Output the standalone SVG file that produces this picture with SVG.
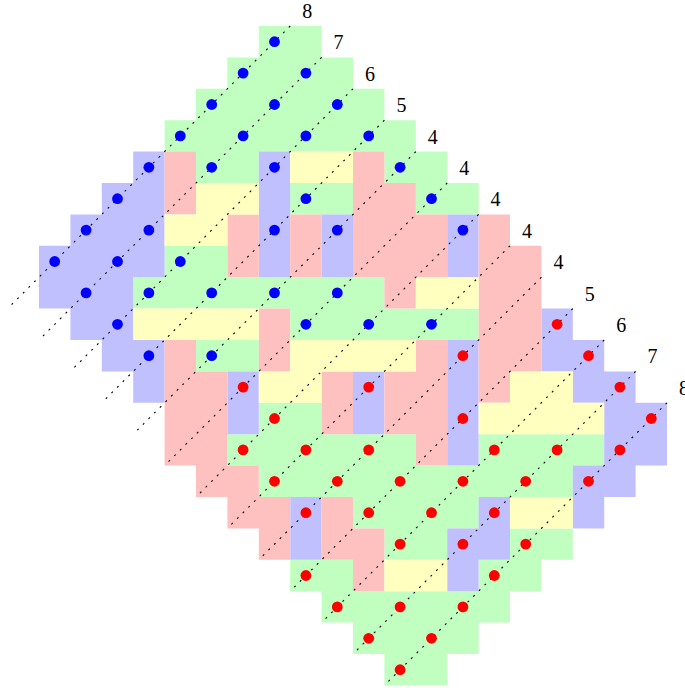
<svg xmlns="http://www.w3.org/2000/svg" width="685" height="688" viewBox="0 0 685 688">
<style>
.g{fill:#c0ffc0}.p{fill:#c0c0ff}.r{fill:#ffc0c0}.y{fill:#ffffc0}
.ln{stroke:#000;stroke-width:1.1;stroke-dasharray:2 6;fill:none}
.b{fill:#0000ff}.d{fill:#ff0000}
.lb{font-family:"Liberation Serif","Times New Roman",serif;font-size:20px;fill:#000;text-anchor:middle}
</style>
<rect width="685" height="688" fill="#fff"/>
<g id="tiles">
<path id="green" class="g" d="M258.8 26h62.8v31.4h-62.8z M227.4 57.4h125.6v31.4h-125.6z M196 88.8h188.4v31.4h-188.4z M164.6 120.2h251.2v31.4h-251.2z M196 151.6h62.8v31.4h-62.8z M384.4 151.6h62.8v31.4h-62.8z M290.2 183h62.8v31.4h-62.8z M415.8 183h62.8v31.4h-62.8z M164.6 245.8h62.8v31.4h-62.8z M133.2 277.2h251.2v31.4h-251.2z M290.2 308.6h188.4v31.4h-188.4z M196 340h62.8v31.4h-62.8z M258.8 402.8h62.8v31.4h-62.8z M227.4 434.2h188.4v31.4h-188.4z M478.6 434.2h125.6v31.4h-125.6z M258.8 465.6h314v31.4h-314z M353 497h125.6v31.4h-125.6z M384.4 528.4h62.8v31.4h-62.8z M510 528.4h62.8v31.4h-62.8z M290.2 559.8h62.8v31.4h-62.8z M478.6 559.8h62.8v31.4h-62.8z M321.6 591.2h188.4v31.4h-188.4z M353 622.6h125.6v31.4h-125.6z M384.4 654h62.8v31.4h-62.8z"/>
<path id="purple" class="p" d="M133.2 151.6h31.4v31.4h-31.4z M258.8 151.6h31.4v31.4h-31.4z M101.8 183h62.8v31.4h-62.8z M258.8 183h31.4v31.4h-31.4z M70.4 214.4h94.2v31.4h-94.2z M258.8 214.4h31.4v31.4h-31.4z M321.6 214.4h31.4v31.4h-31.4z M447.2 214.4h31.4v31.4h-31.4z M39 245.8h125.6v31.4h-125.6z M258.8 245.8h31.4v31.4h-31.4z M321.6 245.8h31.4v31.4h-31.4z M447.2 245.8h31.4v31.4h-31.4z M39 277.2h94.2v31.4h-94.2z M70.4 308.6h62.8v31.4h-62.8z M541.4 308.6h31.4v31.4h-31.4z M101.8 340h62.8v31.4h-62.8z M447.2 340h31.4v31.4h-31.4z M541.4 340h62.8v31.4h-62.8z M133.2 371.4h31.4v31.4h-31.4z M227.4 371.4h31.4v31.4h-31.4z M353 371.4h31.4v31.4h-31.4z M447.2 371.4h31.4v31.4h-31.4z M572.8 371.4h62.8v31.4h-62.8z M227.4 402.8h31.4v31.4h-31.4z M353 402.8h31.4v31.4h-31.4z M447.2 402.8h31.4v31.4h-31.4z M604.2 402.8h62.8v31.4h-62.8z M447.2 434.2h31.4v31.4h-31.4z M604.2 434.2h62.8v31.4h-62.8z M572.8 465.6h62.8v31.4h-62.8z M290.2 497h31.4v31.4h-31.4z M478.6 497h31.4v31.4h-31.4z M572.8 497h31.4v31.4h-31.4z M290.2 528.4h31.4v31.4h-31.4z M447.2 528.4h62.8v31.4h-62.8z M447.2 559.8h31.4v31.4h-31.4z"/>
<path id="pink" class="r" d="M164.6 151.6h31.4v31.4h-31.4z M353 151.6h31.4v31.4h-31.4z M164.6 183h31.4v31.4h-31.4z M353 183h62.8v31.4h-62.8z M227.4 214.4h31.4v31.4h-31.4z M290.2 214.4h31.4v31.4h-31.4z M353 214.4h94.2v31.4h-94.2z M478.6 214.4h31.4v31.4h-31.4z M227.4 245.8h31.4v31.4h-31.4z M290.2 245.8h31.4v31.4h-31.4z M353 245.8h94.2v31.4h-94.2z M478.6 245.8h62.8v31.4h-62.8z M384.4 277.2h31.4v31.4h-31.4z M478.6 277.2h62.8v31.4h-62.8z M258.8 308.6h31.4v31.4h-31.4z M478.6 308.6h62.8v31.4h-62.8z M164.6 340h31.4v31.4h-31.4z M258.8 340h31.4v31.4h-31.4z M415.8 340h31.4v31.4h-31.4z M478.6 340h62.8v31.4h-62.8z M164.6 371.4h62.8v31.4h-62.8z M321.6 371.4h31.4v31.4h-31.4z M384.4 371.4h62.8v31.4h-62.8z M478.6 371.4h31.4v31.4h-31.4z M164.6 402.8h62.8v31.4h-62.8z M321.6 402.8h31.4v31.4h-31.4z M384.4 402.8h62.8v31.4h-62.8z M164.6 434.2h62.8v31.4h-62.8z M415.8 434.2h31.4v31.4h-31.4z M196 465.6h62.8v31.4h-62.8z M227.4 497h62.8v31.4h-62.8z M321.6 497h31.4v31.4h-31.4z M258.8 528.4h31.4v31.4h-31.4z M321.6 528.4h62.8v31.4h-62.8z M353 559.8h31.4v31.4h-31.4z"/>
<path id="yellow" class="y" d="M290.2 151.6h62.8v31.4h-62.8z M196 183h62.8v31.4h-62.8z M164.6 214.4h62.8v31.4h-62.8z M415.8 277.2h62.8v31.4h-62.8z M133.2 308.6h125.6v31.4h-125.6z M290.2 340h125.6v31.4h-125.6z M258.8 371.4h62.8v31.4h-62.8z M510 371.4h62.8v31.4h-62.8z M478.6 402.8h125.6v31.4h-125.6z M510 497h62.8v31.4h-62.8z M384.4 559.8h62.8v31.4h-62.8z"/>
</g>
<g id="connectors">
<line class="ln" x1="290.2" y1="26" x2="7.6" y2="308.6"/>
<line class="ln" x1="321.6" y1="57.4" x2="39" y2="340"/>
<line class="ln" x1="353" y1="88.8" x2="70.4" y2="371.4"/>
<line class="ln" x1="384.4" y1="120.2" x2="101.8" y2="402.8"/>
<line class="ln" x1="415.8" y1="151.6" x2="133.2" y2="434.2"/>
<line class="ln" x1="447.2" y1="183" x2="164.6" y2="465.6"/>
<line class="ln" x1="478.6" y1="214.4" x2="196" y2="497"/>
<line class="ln" x1="510" y1="245.8" x2="227.4" y2="528.4"/>
<line class="ln" x1="541.4" y1="277.2" x2="258.8" y2="559.8"/>
<line class="ln" x1="572.8" y1="308.6" x2="290.2" y2="591.2"/>
<line class="ln" x1="604.2" y1="340" x2="321.6" y2="622.6"/>
<line class="ln" x1="635.6" y1="371.4" x2="353" y2="654"/>
<line class="ln" x1="667" y1="402.8" x2="384.4" y2="685.4"/>
</g>
<g id="blue-dots" class="b">
<circle cx="274.5" cy="41.7" r="5.4"/>
<circle cx="243.1" cy="73.1" r="5.4"/><circle cx="305.9" cy="73.1" r="5.4"/>
<circle cx="211.7" cy="104.5" r="5.4"/><circle cx="274.5" cy="104.5" r="5.4"/><circle cx="337.3" cy="104.5" r="5.4"/>
<circle cx="180.3" cy="135.9" r="5.4"/><circle cx="243.1" cy="135.9" r="5.4"/><circle cx="305.9" cy="135.9" r="5.4"/><circle cx="368.7" cy="135.9" r="5.4"/>
<circle cx="148.9" cy="167.3" r="5.4"/><circle cx="211.7" cy="167.3" r="5.4"/><circle cx="274.5" cy="167.3" r="5.4"/><circle cx="400.1" cy="167.3" r="5.4"/>
<circle cx="117.5" cy="198.7" r="5.4"/><circle cx="305.9" cy="198.7" r="5.4"/><circle cx="431.5" cy="198.7" r="5.4"/>
<circle cx="86.1" cy="230.1" r="5.4"/><circle cx="148.9" cy="230.1" r="5.4"/><circle cx="274.5" cy="230.1" r="5.4"/><circle cx="337.3" cy="230.1" r="5.4"/><circle cx="462.9" cy="230.1" r="5.4"/>
<circle cx="54.7" cy="261.5" r="5.4"/><circle cx="117.5" cy="261.5" r="5.4"/><circle cx="180.3" cy="261.5" r="5.4"/>
<circle cx="86.1" cy="292.9" r="5.4"/><circle cx="148.9" cy="292.9" r="5.4"/><circle cx="211.7" cy="292.9" r="5.4"/><circle cx="274.5" cy="292.9" r="5.4"/><circle cx="337.3" cy="292.9" r="5.4"/>
<circle cx="117.5" cy="324.3" r="5.4"/><circle cx="305.9" cy="324.3" r="5.4"/><circle cx="368.7" cy="324.3" r="5.4"/><circle cx="431.5" cy="324.3" r="5.4"/>
<circle cx="148.9" cy="355.7" r="5.4"/><circle cx="211.7" cy="355.7" r="5.4"/>
</g>
<g id="red-dots" class="d">
<circle cx="557.1" cy="324.3" r="5.4"/>
<circle cx="462.9" cy="355.7" r="5.4"/><circle cx="588.5" cy="355.7" r="5.4"/>
<circle cx="243.1" cy="387.1" r="5.4"/><circle cx="368.7" cy="387.1" r="5.4"/><circle cx="619.9" cy="387.1" r="5.4"/>
<circle cx="274.5" cy="418.5" r="5.4"/><circle cx="462.9" cy="418.5" r="5.4"/><circle cx="651.3" cy="418.5" r="5.4"/>
<circle cx="243.1" cy="449.9" r="5.4"/><circle cx="305.9" cy="449.9" r="5.4"/><circle cx="368.7" cy="449.9" r="5.4"/><circle cx="494.3" cy="449.9" r="5.4"/><circle cx="557.1" cy="449.9" r="5.4"/><circle cx="619.9" cy="449.9" r="5.4"/>
<circle cx="274.5" cy="481.3" r="5.4"/><circle cx="337.3" cy="481.3" r="5.4"/><circle cx="400.1" cy="481.3" r="5.4"/><circle cx="462.9" cy="481.3" r="5.4"/><circle cx="525.7" cy="481.3" r="5.4"/><circle cx="588.5" cy="481.3" r="5.4"/>
<circle cx="305.9" cy="512.7" r="5.4"/><circle cx="368.7" cy="512.7" r="5.4"/><circle cx="431.5" cy="512.7" r="5.4"/><circle cx="494.3" cy="512.7" r="5.4"/>
<circle cx="400.1" cy="544.1" r="5.4"/><circle cx="462.9" cy="544.1" r="5.4"/><circle cx="525.7" cy="544.1" r="5.4"/>
<circle cx="305.9" cy="575.5" r="5.4"/><circle cx="494.3" cy="575.5" r="5.4"/>
<circle cx="337.3" cy="606.9" r="5.4"/><circle cx="400.1" cy="606.9" r="5.4"/><circle cx="462.9" cy="606.9" r="5.4"/>
<circle cx="368.7" cy="638.3" r="5.4"/><circle cx="431.5" cy="638.3" r="5.4"/>
<circle cx="400.1" cy="669.7" r="5.4"/>
</g>
<g id="labels" class="lb">
<text x="307.2" y="18">8</text>
<text x="338.6" y="49.4">7</text>
<text x="370" y="80.8">6</text>
<text x="401.4" y="112.2">5</text>
<text x="432.8" y="143.6">4</text>
<text x="464.2" y="175">4</text>
<text x="495.6" y="206.4">4</text>
<text x="527" y="237.8">4</text>
<text x="558.4" y="269.2">4</text>
<text x="589.8" y="300.6">5</text>
<text x="621.2" y="332">6</text>
<text x="652.6" y="363.4">7</text>
<text x="684" y="394.8">8</text>
</g>
</svg>
